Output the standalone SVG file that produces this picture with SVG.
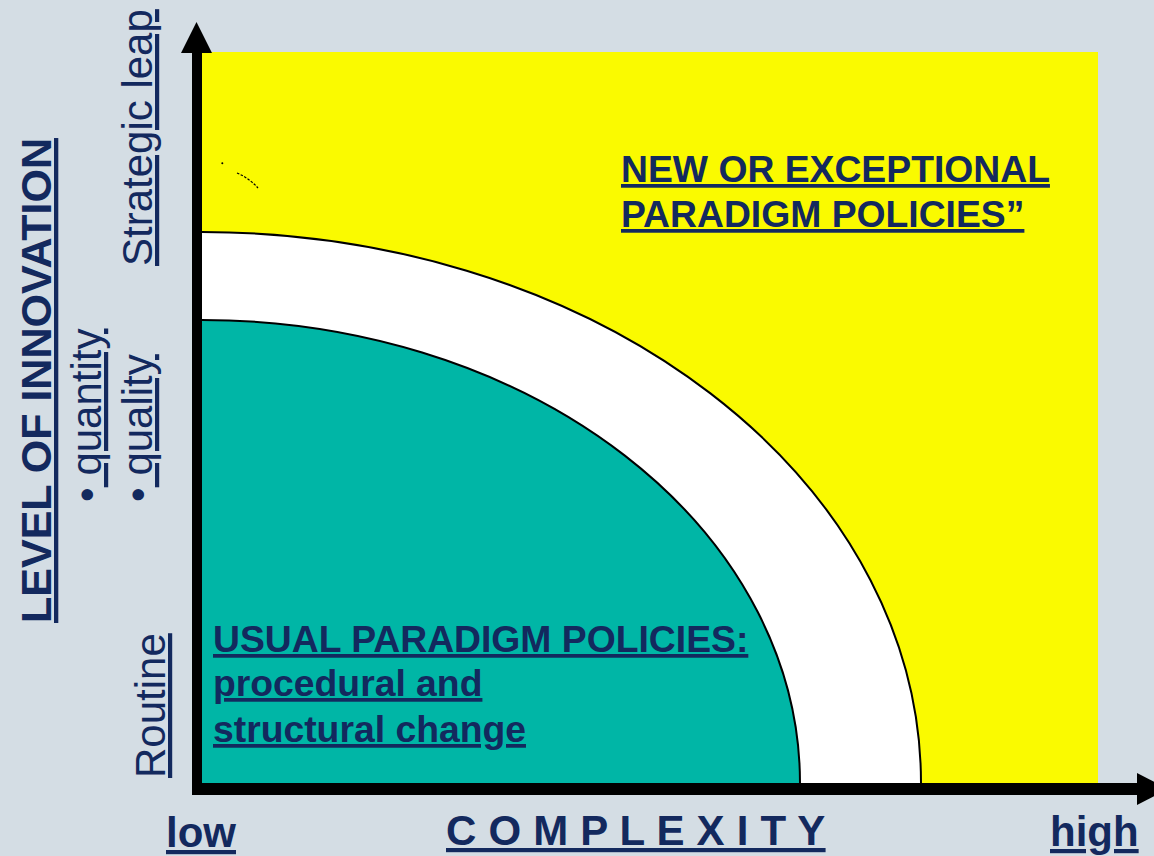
<svg xmlns="http://www.w3.org/2000/svg" width="1154" height="856" viewBox="0 0 1154 856">
  <style>
    .t { font-family: "Liberation Sans", Arial, sans-serif; fill: #13295e; text-decoration: underline; }
    .b { font-weight: bold; }
    .n { font-weight: normal; }
    .arc { stroke: #000; stroke-width: 2; }
  </style>
  <rect id="background" x="0" y="0" width="1154" height="856" fill="#d4dde4"/>

  <g id="region-new">
    <rect x="202" y="52" width="896" height="731" fill="#fafa00"/>
    <circle cx="222.3" cy="163.3" r="1" fill="#000"/>
    <path d="M237,173 Q249,178 258,188" fill="none" stroke="#000" stroke-width="1.2" stroke-dasharray="2.5 1.5"/>
  </g>
  <g id="region-transition">
    <path d="M202,783 L202,232 A719,551 0 0 1 921,783 Z" fill="#ffffff"/>
    <path d="M202,232 A719,551 0 0 1 921,783" fill="none" class="arc"/>
  </g>
  <g id="region-usual">
    <path d="M202,783 L202,320 A598,463 0 0 1 800,783 Z" fill="#00b6a6"/>
    <path d="M202,320 A598,463 0 0 1 800,783" fill="none" class="arc"/>
  </g>

  <g id="connectors">
    <rect x="192" y="52" width="10" height="742" fill="#000"/>
    <polygon points="196.5,22 181,53 212,53" fill="#000"/>
    <rect x="192" y="783" width="946" height="12" fill="#000"/>
    <polygon points="1137,773 1168,789 1137,805" fill="#000"/>
  </g>

  <g id="label-new">
    <text class="t b" font-size="37.3" x="621" y="182">NEW OR EXCEPTIONAL</text>
    <text class="t b" font-size="37.3" x="621" y="227">PARADIGM POLICIES”</text>
  </g>
  <g id="label-usual">
    <text class="t b" font-size="37.3" x="213" y="652">USUAL PARADIGM POLICIES:</text>
    <text class="t b" font-size="37.3" x="213" y="696">procedural and </text>
    <text class="t b" font-size="37.3" x="213" y="742">structural change</text>
  </g>

  <g id="y-axis-labels">
    <text class="t b" font-size="43" transform="translate(51,623) rotate(-90)">LEVEL OF INNOVATION</text>
    <text class="t n" font-size="42" transform="translate(101,502) rotate(-90)" style="text-decoration:none">•<tspan style="text-decoration:underline"> quantity</tspan></text>
    <text class="t n" font-size="42" transform="translate(152,502) rotate(-90)" style="text-decoration:none">•<tspan style="text-decoration:underline"> quality</tspan></text>
    <text class="t n" font-size="42" transform="translate(152,266) rotate(-90)">Strategic leap</text>
    <text class="t n" font-size="42" transform="translate(165,778) rotate(-90)">Routine</text>
  </g>

  <g id="x-axis-labels">
    <text class="t b" font-size="42" x="166" y="847">low</text>
    <text class="t b" font-size="42" x="446" y="845" letter-spacing="0.2">C O M P L E X I T Y</text>
    <text class="t b" font-size="42" x="1050" y="846">high</text>
  </g>
</svg>
